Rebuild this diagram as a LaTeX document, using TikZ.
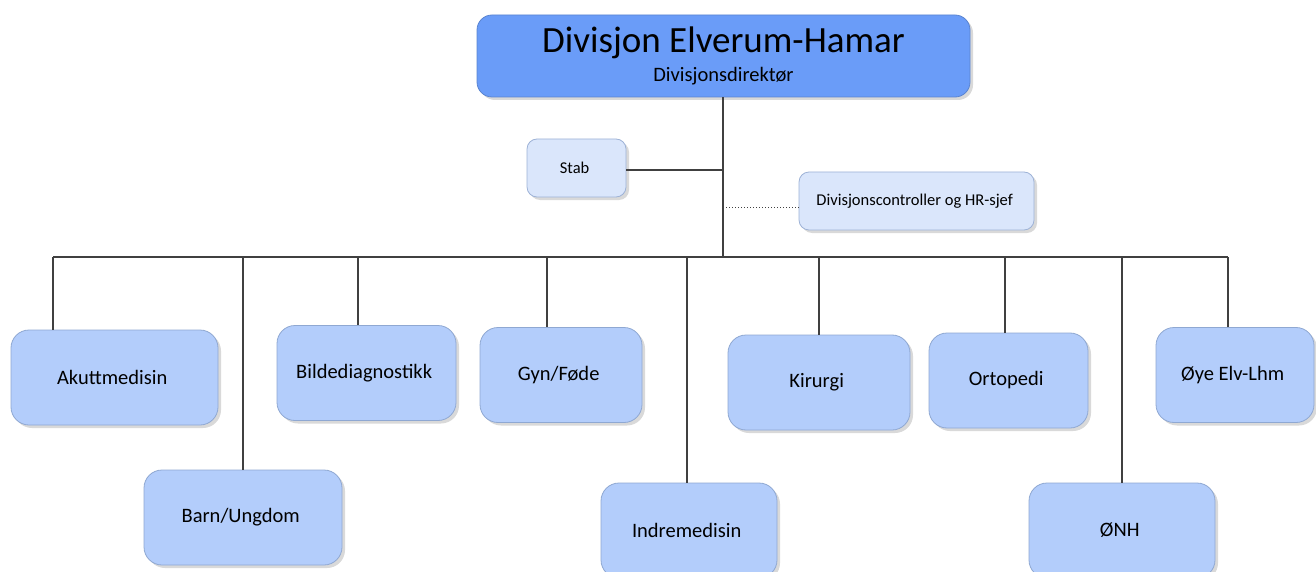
\documentclass[tikz,border=0pt]{standalone}
\usepackage{fontspec}
\setmainfont{Carlito}
\usetikzlibrary{shadows}

\definecolor{divfill}{HTML}{6A9CF8}
\definecolor{divdraw}{HTML}{5A84D0}
\definecolor{unitfill}{HTML}{B3CDFB}
\definecolor{unitdraw}{HTML}{8FA8D2}
\definecolor{stabfill}{HTML}{DAE6FB}
\definecolor{stabdraw}{HTML}{9DB2D6}
\definecolor{linegray}{HTML}{404040}

\begin{document}
\begin{tikzpicture} [
		x = 1pt,
		y = -1pt,
		box/.style = {
			rectangle,
			rounded corners = 15pt,
			thick,
			align = center,
			inner sep = 0pt,
			drop shadow = {shadow xshift=3pt, shadow yshift=-3pt, opacity=0.3},
		},
		division/.style = {
			box,
			draw = divdraw,
			fill = divfill,
			minimum width = 493pt,
			minimum height = 82pt,
		},
		staff/.style = {
			box,
			rounded corners = 10pt,
			draw = stabdraw,
			fill = stabfill,
			minimum height = 58pt,
			font = \fontsize{16.5}{19}\selectfont,
		},
		unit/.style = {
			box,
			rounded corners = 18pt,
			draw = unitdraw,
			fill = unitfill,
			minimum height = 95pt,
			font = \fontsize{20.5}{24}\selectfont,
		},
		line/.style = {
			draw = linegray,
			line width = 1.3pt,
		},
		dotline/.style = {
			draw = linegray,
			line width = 1pt,
			dotted,
		},
	]

	\useasboundingbox (0,0) rectangle (1316,572);

	% top
	\node[division] (division) at (723.5,56) {
		\fontsize{37}{40}\selectfont Divisjon Elverum-Hamar\\[8pt]
		\fontsize{20.5}{24}\selectfont Divisjonsdirektør
	};

	\node[staff, minimum width = 99pt] (stab) at (576.5,168) {
		Stab
	};
	\node[staff, minimum width = 235pt] (controller) at (916.5,201) {
		Divisjonscontroller og HR-sjef
	};

	% units
	\node[unit, minimum width = 207pt] (akutt) at (114.5,377.5) {
		Akuttmedisin
	};
	\node[unit, minimum width = 198pt] (barn) at (243,517.5) {
		Barn/Ungdom
	};
	\node[unit, minimum width = 179pt] (bilde) at (366.5,373) {
		Bildediagnostikk
	};
	\node[unit, minimum width = 162pt] (gyn) at (561,375) {
		Gyn/Føde
	};
	\node[unit, minimum width = 176pt] (indre) at (689,530.5) {
		Indremedisin
	};
	\node[unit, minimum width = 182pt] (kirurgi) at (819,382.5) {
		Kirurgi
	};
	\node[unit, minimum width = 159pt] (orto) at (1008.5,380.5) {
		Ortopedi
	};
	\node[unit, minimum width = 186pt] (onh) at (1122,530.5) {
		ØNH
	};
	\node[unit, minimum width = 158pt] (oye) at (1235,375) {
		Øye Elv-Lhm
	};

	% bus
	\coordinate (busTop) at (723,257);
	\coordinate (busAkutt) at (53,257);
	\coordinate (busBarn) at (243,257);
	\coordinate (busBilde) at (358,257);
	\coordinate (busGyn) at (547,257);
	\coordinate (busIndre) at (687,257);
	\coordinate (busKirurgi) at (819,257);
	\coordinate (busOrto) at (1005,257);
	\coordinate (busOnh) at (1122,257);
	\coordinate (busOye) at (1228,257);
	\coordinate (stabJoin) at (723,170);
	\coordinate (controllerJoin) at (723,207);

	\begin{scope} [
		every path/.style = line
		]
		\path (division.south -| busTop) -- (busTop);
		\path (stab.east |- stabJoin) -- (stabJoin);
		\path (busAkutt) -- (busOye);

		\path (busAkutt) -- (busAkutt |- akutt.north);
		\path (busBarn) -- (busBarn |- barn.north);
		\path (busBilde) -- (busBilde |- bilde.north);
		\path (busGyn) -- (busGyn |- gyn.north);
		\path (busIndre) -- (busIndre |- indre.north);
		\path (busKirurgi) -- (busKirurgi |- kirurgi.north);
		\path (busOrto) -- (busOrto |- orto.north);
		\path (busOnh) -- (busOnh |- onh.north);
		\path (busOye) -- (busOye |- oye.north);
	\end{scope}

	\path[dotline] (controllerJoin) -- (controllerJoin -| controller.west);
\end{tikzpicture}
\end{document}
